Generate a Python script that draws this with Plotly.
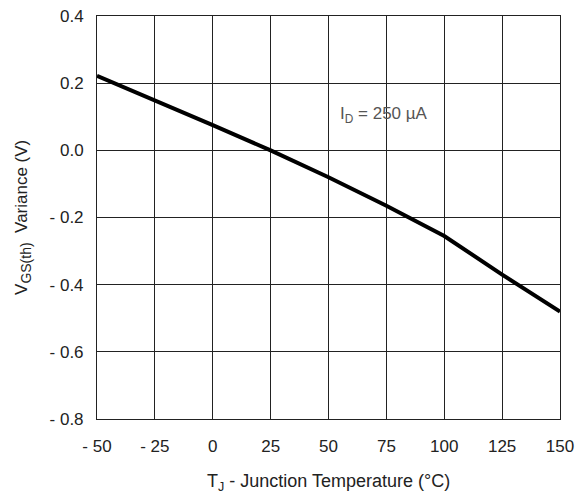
import plotly.graph_objects as go

temps = [-50, -25, 0, 25, 50, 75, 100, 125, 150]
vgs_var = [0.222, 0.15, 0.075, 0.0, -0.08, -0.165, -0.255, -0.37, -0.48]

x_ticks = [-50, -25, 0, 25, 50, 75, 100, 125, 150]
x_tick_text = ["- 50", "- 25", "0", "25", "50", "75", "100", "125", "150"]
y_ticks = [0.4, 0.2, 0.0, -0.2, -0.4, -0.6, -0.8]
y_tick_text = ["0.4", "0.2", "0.0", "- 0.2", "- 0.4", "- 0.6", "- 0.8"]

font_family = "Liberation Sans, Arial, Helvetica, sans-serif"
FS = 17

fig = go.Figure()
fig.add_trace(go.Scatter(x=temps, y=vgs_var, mode="lines",
                         line=dict(color="black", width=4), showlegend=False))

fig.add_annotation(x=74, y=0.105, xref="x", yref="y", showarrow=False,
                   text="I<sub>D</sub> = 250 µA", xanchor="center", yanchor="middle",
                   font=dict(family=font_family, size=17, color="#555555"))

# axis titles
fig.add_annotation(x=0.5, y=-0.158, xref="paper", yref="paper", showarrow=False,
                   text="T<sub>J</sub> - Junction Temperature (°C)",
                   xanchor="center", yanchor="middle",
                   font=dict(family=font_family, size=18, color="#222222"))
fig.add_annotation(x=-0.161, y=0.500, xref="paper", yref="paper", showarrow=False,
                   text="V<sub><span style='font-size:14px'>GS(th)</span></sub>  Variance (V)",
                   textangle=-90, xanchor="center", yanchor="middle",
                   font=dict(family=font_family, size=FS, color="#222222"))

fig.update_layout(
    width=575, height=497,
    margin=dict(l=97, r=15, t=16, b=78),
    paper_bgcolor="white", plot_bgcolor="white",
    font=dict(family=font_family, size=FS, color="#222222"),
    xaxis=dict(range=[-50, 150], tickvals=x_ticks, ticktext=x_tick_text,
               showgrid=True, gridcolor="#222222", gridwidth=1,
               showline=True, linecolor="#222222", linewidth=1, mirror=True,
               zeroline=False, ticks="", ticklabelstandoff=12, automargin=False),
    yaxis=dict(range=[-0.8, 0.4], tickvals=y_ticks, ticktext=y_tick_text,
               showgrid=True, gridcolor="#222222", gridwidth=1,
               showline=True, linecolor="#222222", linewidth=1, mirror=True,
               zeroline=False, ticks="", ticklabelstandoff=9, automargin=False),
)

fig.write_html("out.html")
